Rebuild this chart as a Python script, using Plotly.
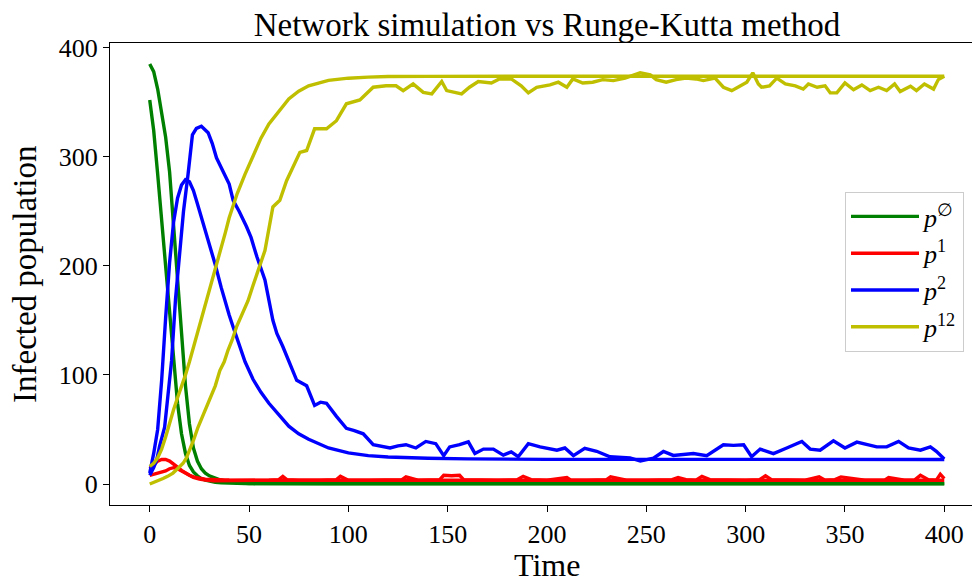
import plotly.graph_objects as go

# ---------------- data ----------------
t_rk = [0, 2, 4, 6, 8, 10, 12, 14, 16, 18, 20, 22, 24, 26, 28, 30, 33, 36, 38, 40,
        42, 44, 48, 52, 56, 60, 65, 70, 75, 80, 90, 100, 110, 120, 140, 160, 200,
        250, 300, 350, 400]

green_rk = [352, 324, 284, 242, 202, 158, 112, 74, 46, 28, 17, 11, 7.5, 5, 3.5, 2.5,
            1.6, 1.1, 0.9, 0.7, 0.6, 0.5, 0.4, 0.3, 0.2, 0.2, 0.1, 0.1, 0.1, 0.1, 0.1,
            0.1, 0.1, 0.1, 0.1, 0.1, 0.1, 0.1, 0.1, 0.1, 0.1]
red_rk = [14, 18, 21, 22.5, 22.5, 21, 18.5, 15.5, 12.5, 10, 8, 6.5, 5.5, 5, 4.5, 4.2,
          4, 3.8, 3.7, 3.6, 3.5, 3.5, 3.5, 3.5, 3.5, 3.5, 3.5, 3.5, 3.5, 3.5, 3.5,
          3.5, 3.5, 3.5, 3.5, 3.5, 3.5, 3.5, 3.5, 3.5, 3.5]
blue_rk = [10, 28, 50, 95, 152, 203, 240, 262, 274, 279, 277, 269, 257, 245, 233, 221,
           201, 180, 167, 155, 144, 133, 112, 96, 84, 74, 63, 53, 46, 41, 33, 28.5,
           26, 24.8, 23.6, 23, 22.6, 22.5, 22.5, 22.5, 22.5]
yellow_rk = [16, 19, 24, 32, 43, 56, 68, 79, 89, 100, 112, 125, 138, 151, 164, 177,
             195, 215, 230, 244, 256, 266, 284, 301, 317, 330, 342, 353, 360, 365, 370,
             372, 373, 373.5, 373.7, 373.8, 373.8, 373.8, 373.8, 373.8, 373.8]

t_green_sim = [0, 2, 4, 6, 8, 10, 12, 14, 16, 18, 20, 22, 24, 26, 28, 30, 35, 40, 45,
               50, 60, 80, 100, 150, 200, 250, 300, 350, 400]
green_sim = [385, 378, 362, 342, 318, 286, 238, 184, 136, 90, 55, 33, 21, 14, 10, 7.5,
             4, 2, 1, 0.5, 0.5, 0.3, 0.5, 0.3, 0.5, 0.3, 0.5, 0.3, 0.3]

t_red_sim = [0, 2, 4, 6, 8, 10, 12, 14, 16, 18, 20, 22, 25, 28, 32, 36, 40, 45, 50, 55,
             60, 65, 67, 69, 75, 85, 94, 96, 100, 110, 120, 127, 129, 135, 146, 148,
             152, 156, 158, 165, 175, 185, 188, 192, 200, 210, 212, 220, 230, 232,
             240, 250, 263, 266, 270, 275, 278, 282, 290, 300, 307, 310, 313, 320,
             330, 337, 340, 345, 348, 360, 370, 372, 380, 385, 388, 392, 396, 398, 400]
red_sim = [8, 9, 10, 11, 12, 14, 15, 14, 12, 10, 8, 6, 4.5, 3.5, 3, 3, 3.5, 3, 3.5, 3,
           3.5, 4, 7, 4, 3.5, 3.5, 4, 7, 3.5, 3.5, 3.5, 4, 6.5, 3.5, 4, 8, 7.5, 8, 4,
           3.5, 3.5, 4, 7, 4, 3.5, 6, 3.5, 3.5, 4, 6.5, 3.5, 3.5, 4, 6, 4, 3.5, 7, 4,
           3.5, 3.5, 4, 7.5, 4, 3.5, 3.5, 6.5, 3.5, 4, 6.5, 3.5, 3.5, 6, 3.5, 3.5, 8,
           4, 3.5, 9, 5]

t_blue_sim = [0, 2, 3.5, 5, 7.5, 9, 11, 13, 14.5, 17, 19.3, 21.5, 23.5, 26, 29.4, 31.5,
              33.6, 36, 38, 40, 42, 45, 48.7, 51, 54, 58, 62, 64, 67, 70.5, 74, 79,
              83, 86, 89, 94, 99, 103, 107.5, 112.5, 117, 121, 125, 129, 134, 139,
              144, 148, 151, 156, 160.4, 163.7, 168, 173, 178, 182, 185.5, 190.6,
              196.5, 205, 209, 213.3, 219, 225, 231.7, 241.8, 247, 253.6, 258.6,
              263.6, 273.7, 280.4, 288.8, 293.9, 299, 303, 307.3, 314, 320.7, 328.3,
              332.5, 337.5, 344.2, 350, 356, 361, 366, 371, 377, 382, 388, 393, 396,
              400]
blue_sim = [8, 15, 22, 35, 52, 80, 113, 170, 200, 250, 284, 320, 326, 328, 322, 312,
            299, 290, 283, 275, 260, 250, 236, 226, 208, 187, 150, 138, 126, 111, 95,
            90, 72, 75, 74, 62, 51, 49, 46, 36, 34, 33, 35, 36, 33, 39, 37, 26, 34, 36,
            38.6, 28, 32, 32, 26.5, 29.5, 25, 37, 34, 31, 33, 26, 32.6, 30, 25, 24, 21,
            23.6, 29.8, 26.2, 28, 26, 36, 35.4, 36, 25, 32, 27.8, 33, 39, 32, 31, 39.6,
            33, 38.4, 36, 34, 34, 39, 33, 31, 34, 30, 23]

t_yellow_sim = [0, 3, 6.7, 9, 11.7, 14, 16.8, 18.5, 20.2, 22, 24.3, 27, 30.2, 33, 35.3,
                37.5, 39.4, 41.5, 43.7, 46.5, 49.5, 52, 54.6, 58, 62, 65.5, 68.9, 72.2,
                75.6, 79, 83, 89, 94, 99, 105.8, 112.5, 119, 124, 127.6, 132.6, 137.7,
                142, 147, 149.5, 152.8, 157, 161, 165.4, 172, 176, 182, 187, 190.6,
                194.8, 201.5, 205.7, 210, 213, 218, 223, 228, 233.4, 239.3, 242.7,
                246.9, 252, 255, 260, 265, 270, 275, 278.7, 284.6, 288.8, 293, 297,
                300.6, 303.6, 306.4, 308, 312, 315.7, 320, 325, 329, 331.6, 336, 340,
                342.6, 345.9, 350, 354.3, 358.5, 362.7, 366.9, 371, 375, 377.8, 383,
                386, 390, 394.6, 397, 400]
yellow_sim = [0, 2, 5, 7, 10, 14, 19, 24, 31, 40, 52, 64, 77, 90, 104, 112, 122.6, 132,
              144, 155, 168, 182, 196, 214, 254, 260, 278, 290, 304, 305.7, 325.6,
              325.6, 333, 348.5, 352, 363.7, 365, 365, 360.6, 366.7, 359, 357.6, 369,
              360.6, 359, 357.6, 363.7, 368.9, 367.6, 371.3, 371.3, 365, 358.5, 363.7,
              365.8, 368.3, 363.7, 371.3, 367.6, 368.3, 370.7, 369.8, 372, 374.4,
              376.9, 375, 370.7, 368.3, 370.7, 372, 371.3, 369.8, 372, 363.7, 360.6,
              364.6, 368.3, 376.9, 366.7, 363.7, 365, 372, 366.7, 365, 362, 366.7,
              363.7, 365, 358.5, 358.5, 367.6, 361.4, 365.8, 360.6, 363.7, 360.6,
              366.7, 359.8, 364.6, 360.6, 366.7, 362, 370.7, 373.8]

labels = ["<i>p</i><sup>∅</sup>", "<i>p</i><sup>1</sup>",
          "<i>p</i><sup>2</sup>", "<i>p</i><sup>12</sup>"]
colors = ["#008000", "#ff0000", "#0000ff", "#bfbf00"]

x_ticks = [0, 50, 100, 150, 200, 250, 300, 350, 400]
y_ticks = [0, 100, 200, 300, 400]

# ---------------- figure ----------------
FONT = "Liberation Serif"
OFF = 8                      # default page margin of the html body
# target plot box in window pixels: x 110..984 (right edge falls past the
# 980 px window, as in the reference), y 43..505
BOX_L, BOX_R, BOX_T, BOX_B = 110, 984, 43, 505
W = BOX_R - OFF + 2
H = 583 - OFF
ML, MT = BOX_L - OFF, BOX_T - OFF
MR = W - (BOX_R - OFF)
MB = H - (BOX_B - OFF)
PW, PH = W - ML - MR, H - MT - MB

fig = go.Figure()

sims = [(t_green_sim, green_sim), (t_red_sim, red_sim),
        (t_blue_sim, blue_sim), (t_yellow_sim, yellow_sim)]
rks = [green_rk, red_rk, blue_rk, yellow_rk]

for i in range(4):
    ts, vs = sims[i]
    fig.add_trace(go.Scatter(x=ts, y=vs, mode="lines", name=labels[i],
                             line=dict(color=colors[i], width=3.4),
                             showlegend=True, legendrank=i))
    fig.add_trace(go.Scatter(x=t_rk, y=rks[i], mode="lines", name=labels[i],
                             line=dict(color=colors[i], width=3.4),
                             showlegend=False))

axis_common = dict(
    showline=True, linecolor="black", linewidth=1.3, mirror=True,
    ticks="outside", ticklen=6, tickwidth=1.3, tickcolor="black",
    showgrid=False, zeroline=False, automargin=False,
    tickfont=dict(family=FONT, size=26, color="black"),
)

fig.update_layout(
    width=W, height=H,
    margin=dict(l=ML, r=MR, t=MT, b=MB),
    paper_bgcolor="white", plot_bgcolor="white",
    title=dict(text="Network simulation vs Runge-Kutta method",
               font=dict(family=FONT, size=33, color="black"),
               x=0.5, xref="paper", xanchor="center",
               y=1 - (24 - OFF) / H, yref="container", yanchor="middle"),
    xaxis=dict(range=[-20, 420], tickvals=x_ticks, **axis_common),
    yaxis=dict(range=[-19.25, 404.25], tickvals=y_ticks, **axis_common),
    legend=dict(x=(845 - BOX_L) / PW, y=1 - (192 - BOX_T) / PH,
                xanchor="left", yanchor="top",
                bgcolor="white", bordercolor="#cccccc", borderwidth=1,
                font=dict(family=FONT, size=26, color="black"),
                tracegroupgap=0, itemwidth=68),
    annotations=[
        dict(text="Time", xref="paper", yref="paper", x=0.5, y=-(565 - BOX_B) / PH,
             xanchor="center", yanchor="middle", showarrow=False,
             font=dict(family=FONT, size=32, color="black")),
        dict(text="Infected population", xref="paper", yref="paper",
             x=-(BOX_L - 25) / PW, y=0.5, xanchor="center", yanchor="middle",
             textangle=-90, showarrow=False,
             font=dict(family=FONT, size=33, color="black")),
    ],
)

fig.write_html("out.html")
